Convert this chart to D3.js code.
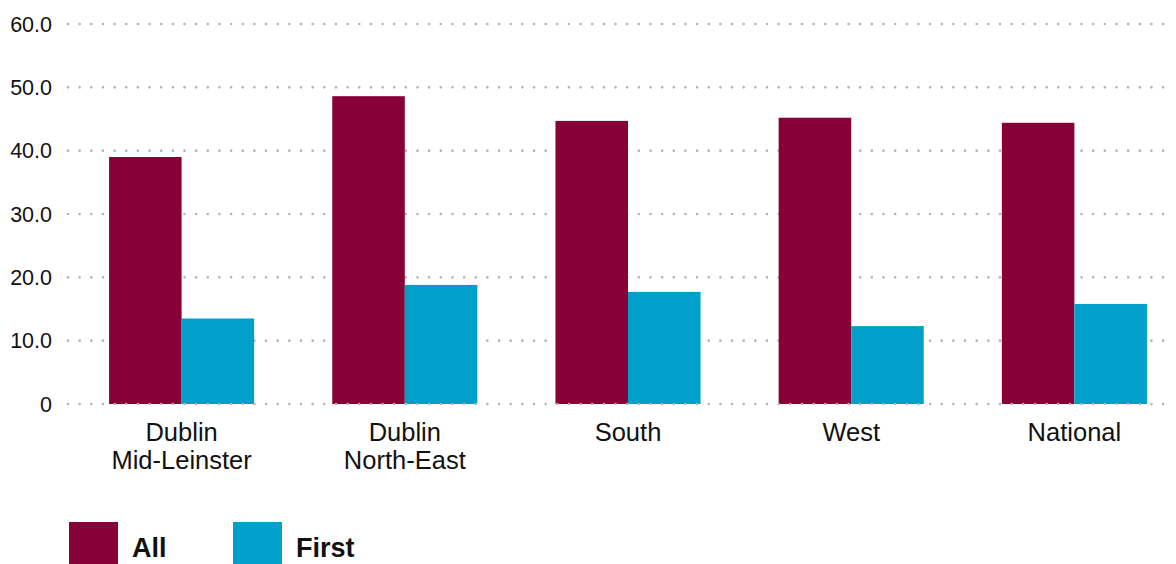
<!DOCTYPE html>
<html>
<head>
<meta charset="utf-8">
<script src="https://cdn.jsdelivr.net/npm/d3@7"></script>
<style>
  body { margin: 0; background: #fff; }
  svg text { font-family: "Liberation Sans", Arial, Helvetica, sans-serif; fill: #111; }
</style>
</head>
<body>
<div id="chart"></div>
<script>
const regions = [["Dublin", "Mid-Leinster"], ["Dublin", "North-East"], ["South"], ["West"], ["National"]];
const regionKeys = ["Dublin Mid-Leinster", "Dublin North-East", "South", "West", "National"];
const allValues = [39.0, 48.6, 44.7, 45.2, 44.4];
const firstValues = [13.5, 18.8, 17.7, 12.3, 15.8];
const seriesNames = ["All", "First"];
const colors = ["#870038", "#00a0ca"];
const yTicks = [0, 10, 20, 30, 40, 50, 60];

const width = 1176, height = 564;

const svg = d3.select("#chart").append("svg")
    .attr("width", width)
    .attr("height", height);

const x = d3.scaleBand()
    .domain(regionKeys)
    .range([70, 1186])
    .paddingInner(0.35)
    .paddingOuter(0.175);

const xSeries = d3.scaleBand()
    .domain(seriesNames)
    .range([0, x.bandwidth()]);

const y = d3.scaleLinear()
    .domain([0, 60])
    .range([404, 24]);

// dotted gridlines
function gridLine(g, ticks) {
    g.selectAll("line")
        .data(ticks)
        .enter()
        .append("line")
        .attr("x1", 68)
        .attr("x2", 1172)
        .attr("y1", d => y(d))
        .attr("y2", d => y(d))
        .style("stroke", "#b3b3b3")
        .style("stroke-width", 2.6)
        .style("stroke-linecap", "round")
        .style("stroke-dasharray", "0 11.65");
}

svg.append("g").call(gridLine, yTicks.filter(d => d !== 0));

// tick labels
svg.append("g")
    .selectAll("text")
    .data(yTicks)
    .enter()
    .append("text")
    .attr("x", 52)
    .attr("y", d => y(d))
    .attr("dy", "0.36em")
    .attr("text-anchor", "end")
    .style("font-size", "21.5px")
    .text(d => d === 0 ? "0" : d.toFixed(1));

// bars
const rows = regionKeys.map((k, i) => ({ key: k, values: [allValues[i], firstValues[i]] }));

const groups = svg.append("g")
    .selectAll("g")
    .data(rows)
    .enter()
    .append("g")
    .attr("transform", d => `translate(${x(d.key)},0)`);

groups.selectAll("rect")
    .data(d => d.values.map((v, j) => ({ series: seriesNames[j], value: v, color: colors[j] })))
    .enter()
    .append("rect")
    .attr("x", d => xSeries(d.series))
    .attr("width", xSeries.bandwidth())
    .attr("y", d => y(d.value))
    .attr("height", d => y(0) - y(d.value))
    .style("fill", d => d.color);

// zero line sits over the bars
svg.append("g").call(gridLine, [0]);

// category labels
const labels = svg.append("g")
    .selectAll("text")
    .data(regionKeys)
    .enter()
    .append("text")
    .attr("x", d => x(d) + x.bandwidth() / 2)
    .attr("y", 441)
    .attr("text-anchor", "middle")
    .style("font-size", "25.5px");

labels.selectAll("tspan")
    .data((d, i) => regions[i])
    .enter()
    .append("tspan")
    .attr("x", function() { return this.parentNode.getAttribute("x"); })
    .attr("dy", (d, i) => i === 0 ? 0 : 28)
    .text(d => d);

// legend
const legend = svg.append("g")
    .selectAll("g")
    .data(seriesNames)
    .enter()
    .append("g")
    .attr("transform", (d, i) => `translate(${69 + i * 164},522)`);

legend.append("rect")
    .attr("width", 49)
    .attr("height", 49)
    .style("fill", (d, i) => colors[i]);

legend.append("text")
    .attr("x", 63)
    .attr("y", 35)
    .style("font-size", "27px")
    .style("font-weight", "bold")
    .text(d => d);
</script>
</body>
</html>
